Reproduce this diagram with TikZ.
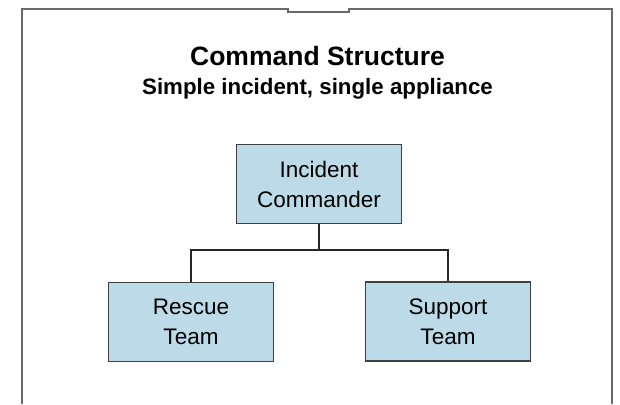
\documentclass[tikz,border=0pt]{standalone}
\usepackage{fontspec}
\setmainfont{Liberation Sans}
\usepackage{tikz}

\definecolor{boxblue}{RGB}{188,218,232}
\definecolor{framegray}{RGB}{105,105,105}

\begin{document}
\begin{tikzpicture}[x=1pt, y=-1pt,
    unit/.style={draw=black!75, fill=boxblue, line width=1.1pt, align=center,
        minimum width=165pt, minimum height=79pt, inner sep=0pt,
        font=\fontsize{22.5}{30}\selectfont},
    link/.style={draw=black!85, line width=1.4pt}]
    \useasboundingbox (0,0) rectangle (620,404);

    \draw[framegray, line width=1.6pt] (22,404) -- (22,9) -- (288,9) -- (288,12)
        -- (349,12) -- (349,9) -- (612,9) -- (612,404);

    \node[anchor=base, font=\bfseries\fontsize{26.5}{30}\selectfont] (title) at (317.5,65) {Command Structure};
    \node[anchor=base, font=\bfseries\fontsize{22.3}{26}\selectfont] (subtitle) at (317.5,94) {Simple incident, single appliance};

    \node[unit] (ic) at (319,184) {Incident\\Commander};
    \node[unit] (rescue) at (191,322) {Rescue\\Team};
    \node[unit] (support) at (448,321.5) {Support\\Team};

    \coordinate (split) at (319,250);
    \draw[link] (ic.south) -- (split);
    \draw[link] (rescue.north) |- (split) -| (support.north);
\end{tikzpicture}
\end{document}
